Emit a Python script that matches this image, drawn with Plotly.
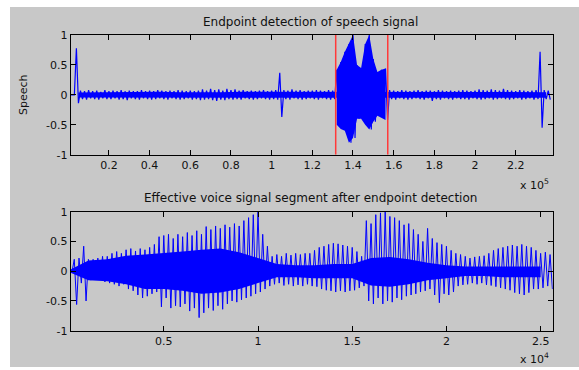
import plotly.graph_objects as go

W, H = 579, 370

# ---------------- data ----------------
TOP_STEP = 2000          # samples between envelope readings (top panel)
TOP_UP = [
    0.0, 0.0, 0.78, 0.07, 0.06, 0.08, 0.06, 0.07, 0.05, 0.08,
    0.06, 0.07, 0.06, 0.08, 0.06, 0.07, 0.06, 0.06, 0.08, 0.06,
    0.07, 0.06, 0.08, 0.07, 0.06, 0.07, 0.06, 0.08, 0.07, 0.06,
    0.07, 0.06, 0.07, 0.09, 0.07, 0.10, 0.08, 0.09, 0.07, 0.10,
    0.08, 0.09, 0.07, 0.08, 0.06, 0.07, 0.06, 0.07, 0.08, 0.06,
    0.07, 0.08, 0.37, 0.08, 0.07, 0.09, 0.07, 0.08, 0.06, 0.07,
    0.07, 0.08, 0.07, 0.06, 0.08, 0.07,
    0.42, 0.55, 0.72, 0.85, 1.0, 0.5, 0.45, 0.85, 1.0, 0.6, 0.38, 0.42, 0.44,
    0.08, 0.07, 0.06, 0.08, 0.07, 0.06, 0.07, 0.08, 0.06, 0.07,
    0.07, 0.06, 0.08, 0.07, 0.06, 0.07, 0.06, 0.07, 0.08, 0.07,
    0.06, 0.07, 0.09, 0.08, 0.07, 0.09, 0.08, 0.07, 0.10, 0.08,
    0.07, 0.06, 0.08, 0.07, 0.06, 0.07, 0.08,
    0.72, 0.08, 0.07,
]
TOP_LO = [
    0.0, 0.0, -0.14, -0.07, -0.08, -0.06, -0.07, -0.08, -0.06, -0.07,
    -0.07, -0.06, -0.08, -0.07, -0.09, -0.06, -0.07, -0.08, -0.06, -0.07,
    -0.08, -0.07, -0.06, -0.07, -0.08, -0.06, -0.07, -0.08, -0.07, -0.06,
    -0.08, -0.07, -0.09, -0.08, -0.07, -0.09, -0.10, -0.08, -0.09, -0.07,
    -0.08, -0.07, -0.08, -0.06, -0.07, -0.08, -0.07, -0.06, -0.07, -0.08,
    -0.07, -0.08, -0.37, -0.07, -0.08, -0.06, -0.07, -0.08, -0.07, -0.06,
    -0.07, -0.08, -0.06, -0.07, -0.08, -0.07,
    -0.5, -0.57, -0.6, -0.8, -0.72, -0.4, -0.4, -0.5, -0.58, -0.45, -0.35, -0.38, -0.42,
    -0.07, -0.08, -0.06, -0.07, -0.08, -0.07, -0.06, -0.07, -0.08, -0.06,
    -0.10, -0.07, -0.08, -0.06, -0.07, -0.08, -0.06, -0.07, -0.07, -0.08,
    -0.06, -0.07, -0.08, -0.07, -0.06, -0.08, -0.07, -0.06, -0.07, -0.08,
    -0.07, -0.06, -0.08, -0.07, -0.06, -0.08, -0.07,
    -0.55, -0.07, -0.08,
]
# solid noise band of the top panel (every 10000 samples, from sample 5000)
TOP_BAND_START = 5000
TOP_BAND_STEP = 10000
TOP_BAND_UP = [0.04, 0.045, 0.04, 0.05, 0.05, 0.045, 0.04, 0.045, 0.05, 0.05, 0.045, 0.045, 0.04,
               0.04, 0.045, 0.05, 0.04, 0.045, 0.05, 0.045, 0.05, 0.05, 0.05, 0.045]
TOP_BAND_LO = [-0.045, -0.05, -0.045, -0.05, -0.055, -0.05, -0.05, -0.05, -0.055, -0.05, -0.05, -0.045, -0.05,
               -0.05, -0.05, -0.05, -0.045, -0.05, -0.05, -0.05, -0.05, -0.05, -0.05, -0.05]
SPEECH_IDX = (66, 79)          # envelope readings inside the detected segment
ENDPOINTS = [131500, 157100]   # red endpoint markers (samples)

BOT_STEP = 250
BOT_UP = [
    0.02, 0.2, 0.22, 0.42, 0.2, 0.2, 0.22, 0.25, 0.25, 0.3,
    0.33, 0.3, 0.36, 0.38, 0.34, 0.38, 0.36, 0.4, 0.45, 0.58,
    0.6, 0.62, 0.55, 0.62, 0.58, 0.65, 0.6, 0.68, 0.62, 0.75,
    0.7, 0.76, 0.72, 0.78, 0.74, 0.8, 0.76, 0.85, 0.9, 0.95,
    1.0, 0.62, 0.42, 0.25, 0.28, 0.25, 0.3, 0.27, 0.3, 0.28,
    0.3, 0.3, 0.35, 0.4, 0.42, 0.45, 0.47, 0.46, 0.44, 0.42,
    0.4, 0.33, 0.25, 0.85, 0.8, 0.95, 0.98, 1.0, 0.92, 0.9,
    0.85, 0.78, 0.8, 0.7, 0.62, 0.5, 0.72, 0.55, 0.48, 0.45,
    0.42, 0.35, 0.3, 0.28, 0.25, 0.22, 0.24, 0.25, 0.26, 0.3,
    0.35, 0.38, 0.4, 0.42, 0.44, 0.42, 0.45, 0.42, 0.4, 0.35,
    0.3, 0.32, 0.28,
]
BOT_LO = [
    -0.02, -0.56, -0.2, -0.5, -0.15, -0.13, -0.12, -0.18, -0.2, -0.22,
    -0.25, -0.22, -0.3, -0.33, -0.4, -0.45, -0.42, -0.38, -0.35, -0.6,
    -0.45, -0.62, -0.58, -0.6, -0.55, -0.67, -0.62, -0.78, -0.7, -0.62,
    -0.66, -0.58, -0.64, -0.55, -0.5, -0.52, -0.48, -0.45, -0.42, -0.38,
    -0.35, -0.3, -0.25, -0.22, -0.2, -0.24, -0.22, -0.25, -0.23, -0.25,
    -0.22, -0.25, -0.26, -0.3, -0.32, -0.33, -0.35, -0.33, -0.35, -0.33,
    -0.32, -0.28, -0.25, -0.5, -0.55, -0.45, -0.55, -0.5, -0.52, -0.45,
    -0.48, -0.42, -0.4, -0.38, -0.35, -0.33, -0.3, -0.4, -0.53, -0.38,
    -0.4, -0.35, -0.25, -0.23, -0.22, -0.2, -0.22, -0.2, -0.23, -0.24,
    -0.26, -0.28, -0.3, -0.32, -0.36, -0.38, -0.4, -0.36, -0.3, -0.3,
    -0.28, -0.25, -0.3,
]
CORE_STEP = 1000
CORE_UP = [0.02, 0.18, 0.2, 0.26, 0.28, 0.3, 0.33, 0.36, 0.38, 0.32, 0.22, 0.12, 0.1,
           0.1, 0.12, 0.12, 0.22, 0.24, 0.2, 0.14, 0.1, 0.08, 0.08, 0.08, 0.09, 0.08]
CORE_LO = [-0.02, -0.15, -0.17, -0.22, -0.3, -0.3, -0.33, -0.38, -0.36, -0.3, -0.2, -0.1, -0.1,
           -0.12, -0.12, -0.12, -0.24, -0.26, -0.22, -0.15, -0.12, -0.08, -0.08, -0.1, -0.1, -0.1]

TOP_TICKS = [20000, 40000, 60000, 80000, 100000, 120000, 140000, 160000, 180000, 200000, 220000]
TOP_TICKTEXT = ["0.2", "0.4", "0.6", "0.8", "1", "1.2", "1.4", "1.6", "1.8", "2", "2.2"]
BOT_TICKS = [5000, 10000, 15000, 20000, 25000]
BOT_TICKTEXT = ["0.5", "1", "1.5", "2", "2.5"]
Y_TICKS = [-1, -0.5, 0, 0.5, 1]
Y_TICKTEXT = ["-1", "-0.5", "0", "0.5", "1"]

TOP_TITLE = "Endpoint detection of speech signal"
BOT_TITLE = "Effective voice signal segment after endpoint detection"
Y_LABEL = "Speech"

# ---------------- build ----------------
def zigzag(up, lo, step):
    xs, ys = [], []
    for i, (u, l) in enumerate(zip(up, lo)):
        xs += [i * step, i * step + step / 2]
        ys += [u, l]
    return xs, ys

BLUE = "#0000ff"
FONT = "DejaVu Sans, Verdana, Arial, sans-serif"

fig = go.Figure()

# top panel
bxs = [TOP_BAND_START + i * TOP_BAND_STEP for i in range(len(TOP_BAND_UP))]
fig.add_trace(go.Scatter(x=bxs + bxs[::-1], y=TOP_BAND_UP + TOP_BAND_LO[::-1], fill="toself",
                         fillcolor=BLUE, line=dict(width=0), mode="lines",
                         xaxis="x", yaxis="y", hoverinfo="skip"))
a, b = SPEECH_IDX
sx = [i * TOP_STEP for i in range(a, b)]
fig.add_trace(go.Scatter(x=sx + sx[::-1], y=TOP_UP[a:b] + TOP_LO[a:b][::-1], fill="toself",
                         fillcolor=BLUE, line=dict(width=0), mode="lines",
                         xaxis="x", yaxis="y", hoverinfo="skip"))
tx, ty = zigzag(TOP_UP, TOP_LO, TOP_STEP)
fig.add_trace(go.Scatter(x=tx, y=ty, mode="lines", line=dict(color=BLUE, width=1.2),
                         xaxis="x", yaxis="y"))
for e in ENDPOINTS:
    fig.add_trace(go.Scatter(x=[e, e], y=[-1, 1], mode="lines",
                             line=dict(color="#ff3a3a", width=1.5), xaxis="x", yaxis="y"))

# bottom panel
cx = [i * CORE_STEP for i in range(len(CORE_UP))]
fig.add_trace(go.Scatter(x=cx + cx[::-1], y=CORE_UP + CORE_LO[::-1], fill="toself",
                         fillcolor=BLUE, line=dict(width=0), mode="lines",
                         xaxis="x2", yaxis="y2", hoverinfo="skip"))
bx, by = zigzag(BOT_UP, BOT_LO, BOT_STEP)
fig.add_trace(go.Scatter(x=bx, y=by, mode="lines", line=dict(color=BLUE, width=1),
                         xaxis="x2", yaxis="y2"))

axis_common = dict(showline=True, linecolor="black", linewidth=1, mirror="allticks",
                   ticks="inside", ticklen=5, tickcolor="black", showgrid=False,
                   zeroline=False, automargin=False,
                   tickfont=dict(family=FONT, size=11, color="#111111"))

xd = [70.7 / W, 552.7 / W]
fig.update_layout(
    template="none",
    width=W, height=H, margin=dict(l=0, r=0, t=0, b=0, pad=0),
    paper_bgcolor="white", plot_bgcolor="white", showlegend=False,
    xaxis=dict(domain=xd, range=[1200, 238200], tickvals=TOP_TICKS, ticktext=TOP_TICKTEXT,
               anchor="y", **axis_common),
    yaxis=dict(domain=[1 - 154.7 / H, 1 - 35 / H], range=[-1, 1], tickvals=Y_TICKS,
               ticktext=Y_TICKTEXT, anchor="x", **axis_common),
    xaxis2=dict(domain=xd, range=[60, 25640], tickvals=BOT_TICKS, ticktext=BOT_TICKTEXT,
                anchor="y2", **axis_common),
    yaxis2=dict(domain=[1 - 330.7 / H, 1 - 211.7 / H], range=[-1, 1], tickvals=Y_TICKS,
                ticktext=Y_TICKTEXT, anchor="x2", **axis_common),
    shapes=[dict(type="rect", xref="paper", yref="paper", x0=10 / W, x1=1, y0=1 - 367 / H,
                 y1=1 - 7 / H, fillcolor="#c8c8c8", line=dict(width=0), layer="below")],
)

def ann(text, px, py, xanchor="center", size=11, **kw):
    d = dict(text=text, x=px / W, y=1 - py / H, xref="paper", yref="paper", showarrow=False,
             xanchor=xanchor, yanchor="middle",
             font=dict(family=FONT, size=size, color="#111111"))
    d.update(kw)
    fig.add_annotation(**d)

ann(TOP_TITLE, 310, 22, size=12)
ann(BOT_TITLE, 310, 198, size=12)
ann(Y_LABEL, 23, 95, textangle=-90)
ann("x 10<sup>5</sup>", 551, 184, xanchor="right")
ann("x 10<sup>4</sup>", 551, 358, xanchor="right")

fig.write_html("out.html", config={"displayModeBar": False},
               post_script="document.body.style.margin='0px';document.body.style.overflow='hidden';")
